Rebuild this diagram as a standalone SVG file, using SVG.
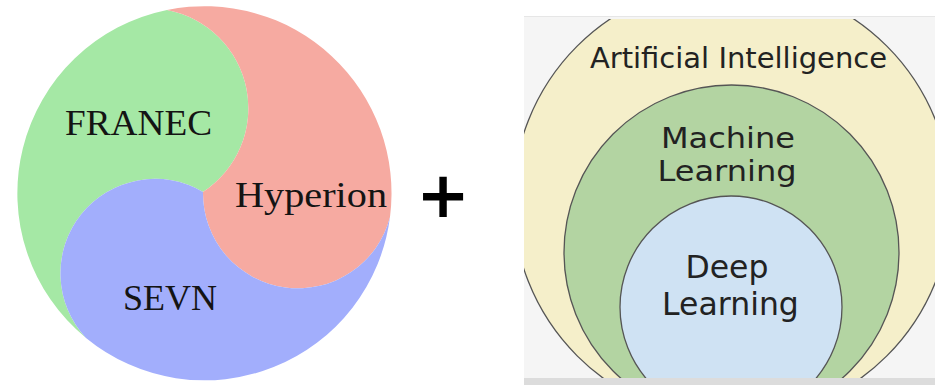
<svg xmlns="http://www.w3.org/2000/svg" width="935" height="385" viewBox="0 0 935 385">
  <style>
    .serif { font-family: "Liberation Serif", "Times New Roman", serif; font-size: 36px; fill: #141414; }
    .sans { font-family: "DejaVu Sans", "Verdana", sans-serif; fill: #222; }
    .ring { stroke: #555; stroke-width: 1.3; }
  </style>
  <defs>
    <clipPath id="panelClip">
      <rect x="524" y="19" width="411" height="359"/>
    </clipPath>
  </defs>

  <rect x="0" y="0" width="935" height="385" fill="#ffffff"/>

  <!-- three-lobed disc: FRANEC / Hyperion / SEVN -->
  <g id="franec">
    <path d="M167,10 A187,187 0 0 0 86,338 A94.5,94.5 0 0 1 203,192 A100,100 0 0 0 167,10 Z" fill="#a5e8a5"/>
    <text class="serif" x="65" y="135" textLength="147" lengthAdjust="spacingAndGlyphs">FRANEC</text>
  </g>
  <g id="hyperion">
    <path d="M167,10 A187,187 0 0 1 390,217 A95,95 0 0 1 203,192 A100,100 0 0 0 167,10 Z" fill="#f6aaa1"/>
    <text class="serif" x="235" y="207" textLength="152" lengthAdjust="spacingAndGlyphs">Hyperion</text>
  </g>
  <g id="sevn">
    <path d="M86,338 A94.5,94.5 0 0 1 203,192 A95,95 0 0 0 390,217 A187,187 0 0 1 86,338 Z" fill="#a2aefc"/>
    <text class="serif" x="123" y="310" textLength="94" lengthAdjust="spacingAndGlyphs">SEVN</text>
  </g>

  <!-- plus sign -->
  <g id="plus">
    <text x="443" y="217" text-anchor="middle" font-family="DejaVu Sans, sans-serif" font-weight="bold" font-size="64" fill="#000">+</text>
  </g>

  <!-- nested AI / ML / DL circles -->
  <g id="panel">
    <rect x="524" y="16" width="411" height="362" fill="#f5f5f5"/>
    <line x1="524" y1="16.5" x2="935" y2="16.5" stroke="#e6e6e6" stroke-width="1"/>
    <rect x="524" y="378" width="411" height="7" fill="#dcdcdc"/>
  </g>
  <g id="ai">
    <circle class="ring" cx="732" cy="201" r="219" fill="#f5efca" clip-path="url(#panelClip)"/>
    <text class="sans" x="738.5" y="68" text-anchor="middle" font-size="29">Artificial Intelligence</text>
  </g>
  <g id="ml">
    <circle class="ring" cx="731.5" cy="252.5" r="167.5" fill="#b3d4a2" clip-path="url(#panelClip)"/>
    <text class="sans" x="728" y="148" text-anchor="middle" font-size="28" textLength="134" lengthAdjust="spacingAndGlyphs">Machine</text>
    <text class="sans" x="727" y="181" text-anchor="middle" font-size="28" textLength="139" lengthAdjust="spacingAndGlyphs">Learning</text>
  </g>
  <g id="dl">
    <circle class="ring" cx="731" cy="307" r="111" fill="#cfe2f3" clip-path="url(#panelClip)"/>
    <text class="sans" x="727" y="278" text-anchor="middle" font-size="31.5">Deep</text>
    <text class="sans" x="730.5" y="315" text-anchor="middle" font-size="31.5">Learning</text>
  </g>
</svg>
